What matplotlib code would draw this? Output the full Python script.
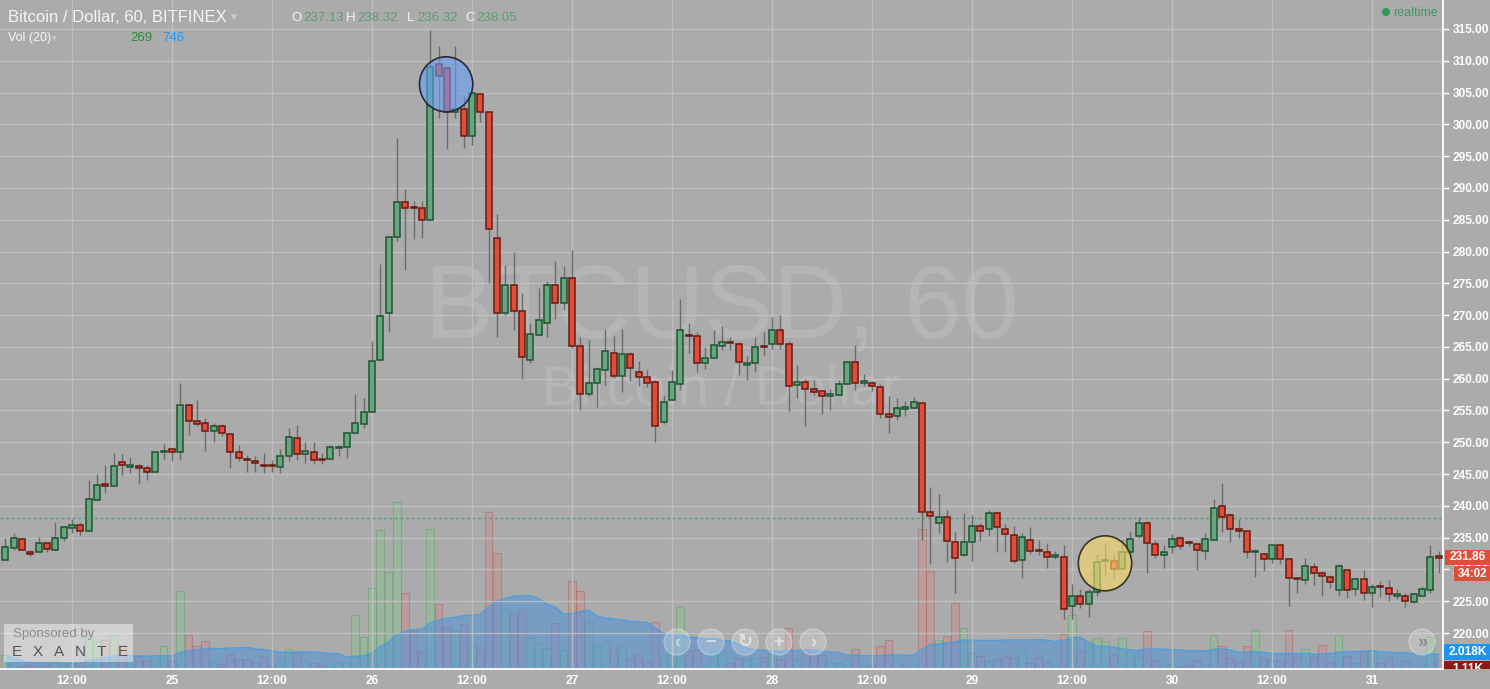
import numpy as np
import pandas as pd
import matplotlib
matplotlib.use("Agg")
import matplotlib.pyplot as plt
from matplotlib.patches import Ellipse, Rectangle

# ---------------- data (hourly BTC/USD, Bitfinex) ----------------
opens = [231.5, 233.4, 234.8, 232.8, 232.7, 234.1, 233.1, 234.95, 236.5, 237.0,
         236.0, 240.9, 243.25, 243.1, 246.9, 246.15, 246.25, 245.9, 245.4, 248.45,
         248.9, 248.4, 255.9, 253.3, 252.97, 251.8, 252.6, 251.25, 248.4, 247.25,
         247.1, 246.35, 246.35, 246.05, 247.8, 250.6, 248.1, 248.4, 247.3, 247.3,
         249.1, 249.2, 251.4, 252.8, 254.7, 263.0, 270.3, 282.3, 287.8, 286.95,
         286.9, 285.0, 309.5, 308.9, 302.0, 302.4, 298.2, 304.8, 302.0, 282.1,
         270.4, 274.8, 270.6, 262.9, 266.8, 268.8, 274.8, 271.9, 275.8, 265.2,
         257.6, 259.3, 261.3, 264.0, 260.4, 263.85, 261.1, 260.2, 259.45, 253.2,
         256.6, 259.1, 266.9, 266.7, 262.4, 263.2, 265.2, 265.65, 265.4, 262.1,
         262.5, 265.05, 265.4, 267.6, 265.4, 259.0, 259.5, 258.3, 258.1, 257.35,
         257.4, 259.2, 262.6, 259.35, 259.3, 258.7, 254.45, 254.1, 255.3, 255.35,
         256.2, 239.1, 237.3, 238.3, 234.35, 232.3, 234.35, 236.9, 236.4, 238.8,
         236.4, 235.4, 231.5, 234.65, 232.95, 232.8, 232.0, 232.0, 224.2, 225.9,
         224.6, 226.5, 231.25, 231.4, 230.1, 232.8, 235.2, 237.3, 234.0, 232.3,
         233.6, 235.0, 234.25, 234.0, 232.9, 234.6, 240.05, 238.5, 236.4, 236.1,
         232.75, 232.5, 231.7, 233.8, 231.7, 228.55, 228.3, 230.4, 229.5, 228.85,
         226.75, 229.85, 226.95, 228.5, 226.35, 227.35, 227.1, 225.85, 225.9, 224.9,
         225.9, 226.7, 232.0]
highs = [234.9, 235.8, 235.0, 233.0, 235.1, 234.2, 237.4, 236.9, 238.0, 237.4,
         244.0, 245.0, 246.4, 248.3, 248.2, 247.7, 246.6, 246.4, 248.4, 249.7,
         248.9, 259.3, 255.9, 256.6, 253.75, 253.0, 252.9, 251.25, 249.6, 248.0,
         247.9, 248.3, 247.25, 248.9, 252.3, 252.7, 250.0, 250.1, 248.3, 249.5,
         249.5, 251.4, 257.6, 257.0, 265.9, 278.0, 282.3, 297.9, 289.8, 287.9,
         287.9, 314.9, 312.4, 308.9, 312.4, 304.5, 305.0, 304.8, 302.0, 285.9,
         277.9, 279.9, 273.5, 268.8, 274.3, 275.3, 278.5, 277.7, 280.2, 266.6,
         266.1, 261.8, 267.8, 266.7, 267.8, 264.2, 262.75, 261.4, 259.8, 257.4,
         261.4, 272.5, 268.7, 267.4, 265.0, 267.6, 268.3, 266.5, 265.8, 263.6,
         266.5, 267.3, 269.7, 270.0, 265.9, 262.2, 259.9, 259.8, 258.1, 258.4,
         259.8, 262.8, 265.3, 260.8, 259.7, 259.1, 257.2, 257.0, 256.55, 257.1,
         256.2, 242.9, 241.8, 239.4, 235.9, 238.9, 238.6, 237.3, 239.3, 239.1,
         237.1, 236.8, 235.8, 236.7, 234.7, 234.2, 232.9, 233.9, 227.75, 226.85,
         226.85, 232.35, 234.1, 232.35, 234.7, 236.1, 238.2, 237.6, 234.7, 233.9,
         235.65, 235.2, 234.5, 234.1, 235.75, 241.1, 243.6, 238.9, 238.0, 236.1,
         233.15, 232.6, 233.9, 233.9, 231.8, 228.7, 231.8, 231.05, 229.7, 229.2,
         230.8, 230.0, 228.7, 229.9, 227.65, 228.2, 228.4, 226.85, 226.3, 226.3,
         227.4, 233.9, 232.9]
lows = [231.5, 233.1, 233.0, 232.1, 232.7, 232.8, 233.1, 234.5, 235.7, 235.4,
        236.0, 240.9, 242.0, 243.1, 244.8, 245.1, 243.5, 244.0, 245.4, 247.4,
        247.1, 247.2, 251.2, 252.6, 248.7, 250.1, 251.0, 246.0, 247.1, 245.4,
        245.4, 245.2, 245.4, 245.2, 247.1, 247.25, 246.8, 246.6, 246.6, 247.3,
        247.9, 247.6, 251.4, 252.2, 254.7, 263.0, 267.4, 281.7, 277.1, 282.0,
        282.1, 285.0, 301.0, 296.1, 301.0, 296.3, 296.7, 300.4, 275.0, 266.5,
        270.0, 267.6, 259.9, 262.5, 266.8, 266.6, 269.4, 270.8, 264.9, 255.0,
        257.3, 255.5, 259.0, 260.1, 257.9, 259.6, 258.9, 258.7, 250.0, 252.9,
        256.6, 258.2, 264.1, 261.1, 261.6, 263.2, 264.45, 264.45, 260.6, 259.8,
        261.1, 263.7, 264.6, 264.6, 254.9, 256.9, 252.5, 257.5, 254.5, 255.0,
        257.4, 259.1, 258.2, 258.9, 258.1, 253.8, 251.4, 253.45, 254.2, 255.35,
        234.7, 230.9, 235.7, 231.15, 226.3, 232.1, 231.3, 234.45, 235.2, 232.7,
        232.7, 231.05, 228.6, 232.35, 232.25, 230.2, 231.6, 222.25, 222.15, 224.0,
        222.5, 225.9, 229.2, 228.7, 230.1, 232.35, 235.0, 229.5, 231.8, 230.3,
        232.6, 233.15, 233.7, 229.9, 231.6, 234.6, 235.9, 234.3, 235.0, 231.8,
        228.85, 229.7, 230.95, 230.8, 224.2, 226.3, 227.75, 227.5, 225.9, 227.1,
        225.9, 225.55, 226.05, 225.2, 224.15, 225.7, 225.0, 225.3, 224.15, 224.75,
        225.8, 226.3, 229.5]
closes = [233.5, 235.0, 233.0, 232.5, 234.1, 233.2, 235.0, 236.6, 237.0, 236.0,
          241.1, 243.3, 243.15, 246.25, 246.5, 246.25, 245.9, 245.3, 248.4, 248.55,
          248.4, 255.9, 253.3, 252.9, 251.8, 252.5, 251.4, 248.4, 247.45, 247.15,
          246.7, 246.25, 246.25, 247.9, 250.8, 248.2, 248.7, 247.15, 247.2, 249.2,
          249.25, 251.4, 253.0, 254.7, 262.85, 269.9, 282.3, 287.8, 286.9, 286.85,
          285.0, 309.0, 307.6, 302.0, 302.4, 298.2, 305.0, 302.0, 283.6, 270.4,
          274.8, 270.6, 263.4, 267.0, 269.3, 274.8, 271.9, 275.8, 265.2, 257.6,
          259.3, 261.5, 264.3, 260.4, 263.85, 261.65, 260.2, 259.3, 252.5, 256.3,
          259.5, 267.6, 266.7, 262.4, 263.2, 265.25, 265.8, 265.55, 262.7, 262.5,
          265.0, 264.95, 267.6, 265.5, 258.8, 259.5, 258.3, 257.9, 257.2, 257.45,
          259.2, 262.6, 259.3, 259.45, 258.8, 254.45, 253.9, 255.4, 255.4, 256.3,
          239.1, 238.4, 238.3, 234.45, 231.8, 234.35, 236.8, 236.1, 238.9, 236.75,
          235.6, 231.4, 235.1, 232.9, 232.85, 232.0, 232.3, 223.8, 225.9, 224.6,
          226.5, 231.2, 231.35, 230.1, 232.8, 234.8, 237.3, 234.1, 232.3, 232.8,
          234.8, 233.7, 234.15, 233.1, 234.8, 239.7, 238.2, 236.4, 236.0, 232.8,
          232.85, 231.7, 233.8, 231.7, 228.7, 228.45, 230.6, 229.5, 228.95, 228.0,
          230.5, 226.75, 228.5, 226.35, 227.3, 227.25, 226.1, 225.95, 225.0, 226.2,
          227.0, 232.0, 231.86]
volumes = [1780, 1080, 390, 480, 350, 480, 1000, 480, 780, 560,
           4290, 3640, 3770, 4420, 3120, 650, 1650, 1000, 1860, 3030,
           1130, 10100, 4380, 2950, 3680, 950, 610, 1990, 1340, 1340,
           870, 1650, 350, 1080, 2560, 2170, 1080, 740, 520, 610,
           740, 870, 7060, 4120, 10570, 18030, 12570, 21670, 9840, 4900,
           2300, 18160, 8490, 5420, 4980, 5810, 2950, 2560, 20370, 15080,
           7840, 7190, 7840, 4070, 3290, 2770, 6020, 2510, 11480, 10180,
           6150, 2950, 3420, 2640, 2950, 1340, 1860, 950, 6150, 1470,
           2510, 8100, 2300, 2510, 560, 2380, 2380, 820, 1470, 1340,
           1470, 1600, 1990, 1340, 5370, 1210, 2640, 1860, 1860, 820,
           820, 1340, 2640, 560, 430, 2950, 3810, 1470, 560, 560,
           18240, 12700, 3810, 4330, 8620, 5370, 2120, 1650, 1080, 1300,
           1730, 1430, 2510, 780, 1520, 950, 560, 4590, 7060, 2380,
           3680, 3990, 3680, 1990, 3990, 2250, 1650, 4980, 1210, 650,
           650, 430, 560, 1210, 560, 4380, 2950, 1430, 950, 2950,
           5110, 1430, 1210, 1210, 5110, 1650, 2640, 1650, 3080, 950,
           4460, 1650, 780, 2380, 2380, 780, 1520, 560, 1080, 650,
           560, 4120, 1110]
tick_labels = ["12:00", "25", "12:00", "26", "12:00", "27", "12:00", "28",
               "12:00", "29", "12:00", "30", "12:00", "31"]
price_ticks = list(range(220, 316, 5))
ref_line_price = 238.05
last_price_label = "231.86"
countdown_label = "34:02"
vol_ma_label = "2.018K"
vol_last_label = "1.11K"
hdr_open, hdr_high, hdr_low, hdr_close = "237.13", "238.32", "236.32", "238.05"
hdr_vol, hdr_vol_ma = "269", "746"
sponsor_letters = ["E", "X", "A", "N", "T", "E"]

# ---------------- styling ----------------
W, H = 1490, 689
BG = "#ababab"
GRID = "#c3c3c3"
UP_FACE, UP_EDGE = "#67a67f", "#1d5533"
DN_FACE, DN_EDGE = "#df4e3a", "#6a1a10"
WICK = "#6c6c6c"
FONT = "Liberation Sans"

plt.rcParams["font.family"] = [FONT, "DejaVu Sans"]

fig = plt.figure(figsize=(W / 100, H / 100), dpi=100, facecolor=BG)

def fx(px):
    return px / W

def fy(py):
    return 1 - py / H

ax_rect = [0, 20 / H, 1443 / W, 669 / H]
n = len(opens)
idx = np.arange(n)
xlim = (-0.636, 172.53)
ylim = (214.34, 319.56)

# volume pane (behind)
axV = fig.add_axes(ax_rect, zorder=1)
axV.set_facecolor(BG)
axV.set_xlim(*xlim)
axV.set_ylim(0, 669 * 130)
axV.axis("off")
o = np.array(opens); c = np.array(closes)
up = c >= o
vcol = np.where(up, "#86c48f", "#cf8a8a")
vedge = np.where(up, "#5f9c6a", "#a86262")
axV.bar(idx, volumes, width=0.92, color=vcol, edgecolor=vedge, linewidth=0.8, alpha=0.45)
vol_ma = pd.Series(volumes).rolling(20, min_periods=1).mean().values
axV.fill_between(idx, 0, vol_ma, color="#4f92dc", alpha=0.55, linewidth=0)
axV.plot(idx, vol_ma, color="#3d9be6", lw=1.0, alpha=0.8)

# price pane
ax = fig.add_axes(ax_rect, zorder=2)
ax.set_facecolor("none")
ax.set_xlim(*xlim)
ax.set_ylim(*ylim)
ax.set_axisbelow(True)
ax.grid(True, color=GRID, lw=1.0, alpha=0.8)
ax.set_xticks(np.arange(8, 8 + 12 * len(tick_labels), 12))
ax.set_xticklabels(tick_labels)
ax.set_yticks(price_ticks)
ax.set_yticklabels([f"{p:.2f}" for p in price_ticks])
ax.yaxis.tick_right()
ax.tick_params(axis="y", colors="white", length=4, width=1, pad=3, labelsize=8.6)
ax.tick_params(axis="x", colors="white", length=0, pad=4, labelsize=8.6)
for lab in ax.get_xticklabels() + ax.get_yticklabels():
    lab.set_fontweight("bold")
for s in ["top", "left"]:
    ax.spines[s].set_visible(False)
for s in ["bottom", "right"]:
    ax.spines[s].set_color("white")
    ax.spines[s].set_linewidth(1.3)

# watermark
ax.text(0.5003, 0.4948, "BTCUSD, 60", transform=ax.transAxes, ha="center", va="baseline",
        fontsize=74, color="white", alpha=0.13, zorder=0)
ax.text(0.5, 0.3946, "Bitcoin / Dollar", transform=ax.transAxes, ha="center", va="baseline",
        fontsize=40, color="white", alpha=0.13, zorder=0)

# reference dotted line
ax.axhline(ref_line_price, color="#48a872", lw=1.0, ls=(0, (2, 2)), zorder=1)

# candles
h = np.array(highs); l = np.array(lows)
ax.vlines(idx, l, h, color=WICK, lw=1.0, zorder=3)
body_bot = np.minimum(o, c)
body_h = np.maximum(np.abs(c - o), 0.22)
ax.bar(idx, body_h, bottom=body_bot, width=0.72,
       color=np.where(up, UP_FACE, DN_FACE), edgecolor=np.where(up, UP_EDGE, DN_EDGE),
       linewidth=1.1, zorder=4)

# highlight circles (data coords)
ax.add_patch(Ellipse((52.9, 306.3), 6.4, 8.65, facecolor=(0.40, 0.62, 0.96, 0.6),
                     edgecolor="#262a36", lw=1.2, zorder=6))
ax.add_patch(Ellipse((131.97, 230.96), 6.4, 8.65, facecolor=(0.99, 0.86, 0.40, 0.6),
                     edgecolor="#3a3520", lw=1.2, zorder=6))

# right-scale labels (clipped overlay)
axR = fig.add_axes([1443 / W, 20 / H, 47 / W, 669 / H], zorder=5, sharey=ax)
axR.set_facecolor("none")
axR.set_xlim(0, 47)
axR.axis("off")

def price_box(y0, y1, x0, color, text, fs=8.6):
    axR.add_patch(Rectangle((x0, y0), 47 - x0, y1 - y0, facecolor=color, edgecolor="none",
                            clip_on=True))
    axR.text((x0 + 47) / 2 + 0.5, (y0 + y1) / 2, text, ha="center", va="center", color="white",
             fontsize=fs, fontweight="bold", clip_on=True)

p_last = float(closes[-1])
price_box(p_last - 1.15, p_last + 1.25, 1.5, "#db4f3b", last_price_label)
price_box(p_last - 3.75, p_last - 1.35, 10.5, "#db4f3b", countdown_label, fs=8.3)
vpx = 1 / 6.358
price_box(ylim[0] + 9 * vpx, ylim[0] + 25 * vpx, 1.0, "#1e94f0", vol_ma_label)
price_box(ylim[0] - 8 * vpx, ylim[0] + 8 * vpx, 1.0, "#8c1b17", vol_last_label)

# header texts
fig.text(fx(8), fy(22), "Bitcoin / Dollar, 60, BITFINEX", fontsize=12.0, color="#f4f4f4",
         va="baseline")
fig.text(fx(231), fy(21), "\u25be", fontsize=9, color="#c8c8c8", va="baseline")
fig.text(fx(291), fy(21), "O", fontsize=9.5, color="#f4f4f4", va="baseline")
fig.text(fx(303), fy(21), hdr_open, fontsize=9.5, color="#5e9d72", va="baseline")
fig.text(fx(346), fy(21), "H", fontsize=9.5, color="#f4f4f4", va="baseline")
fig.text(fx(357), fy(21), hdr_high, fontsize=9.5, color="#5e9d72", va="baseline")
fig.text(fx(407), fy(21), "L", fontsize=9.5, color="#f4f4f4", va="baseline")
fig.text(fx(417), fy(21), hdr_low, fontsize=9.5, color="#5e9d72", va="baseline")
fig.text(fx(465), fy(21), "C", fontsize=9.5, color="#f4f4f4", va="baseline")
fig.text(fx(476), fy(21), hdr_close, fontsize=9.5, color="#5e9d72", va="baseline")
fig.text(fx(8), fy(41), "Vol (20)", fontsize=9, color="#f4f4f4", va="baseline")
fig.text(fx(52), fy(40), "\u25be", fontsize=7, color="#c8c8c8", va="baseline")
fig.text(fx(130), fy(41), hdr_vol, fontsize=9.5, color="#2c8a3a", va="baseline")
fig.text(fx(162), fy(41), hdr_vol_ma, fontsize=9.5, color="#2196f3", va="baseline")
fig.add_artist(Ellipse((fx(1386), fy(12)), 8 / W, 8 / H, transform=fig.transFigure,
                       facecolor="#2e9a58", edgecolor="none"))
fig.text(fx(1393), fy(16), "realtime", fontsize=9, color="#3b9a62", va="baseline")

# sponsored box
fig.add_artist(Rectangle((fx(4), fy(662)), 129 / W, 38 / H, transform=fig.transFigure,
                         facecolor="white", alpha=0.45, edgecolor="none", zorder=10))
fig.text(fx(13), fy(637), "Sponsored by", fontsize=9.5, color="#8c8c8c", va="baseline", zorder=11)
for k, letter in enumerate(sponsor_letters):
    fig.text(fx(17 + 21.2 * k), fy(656), letter, fontsize=11, color="#555555", ha="center",
             va="baseline", zorder=11)

# navigation buttons
for xc, sym in zip([677, 711, 745, 779, 813], ["\u2039", "\u2212", "\u21bb", "+", "\u203a"]):
    fig.add_artist(Ellipse((fx(xc), fy(642)), 26 / W, 26 / H, transform=fig.transFigure,
                           facecolor=(1, 1, 1, 0.22), edgecolor=(1, 1, 1, 0.3), lw=1, zorder=10))
    fig.text(fx(xc), fy(642), sym, fontsize=13, color=(1, 1, 1, 0.55), ha="center", va="center",
             zorder=11, fontweight="bold")
fig.add_artist(Ellipse((fx(1422), fy(642)), 26 / W, 26 / H, transform=fig.transFigure,
                       facecolor=(1, 1, 1, 0.22), edgecolor=(1, 1, 1, 0.3), lw=1, zorder=10))
fig.text(fx(1422), fy(642), "\u00bb", fontsize=13, color=(0.55, 0.55, 0.55), ha="center",
         va="center", zorder=11, fontweight="bold")

fig.savefig("out.png", dpi=100, facecolor=BG)
